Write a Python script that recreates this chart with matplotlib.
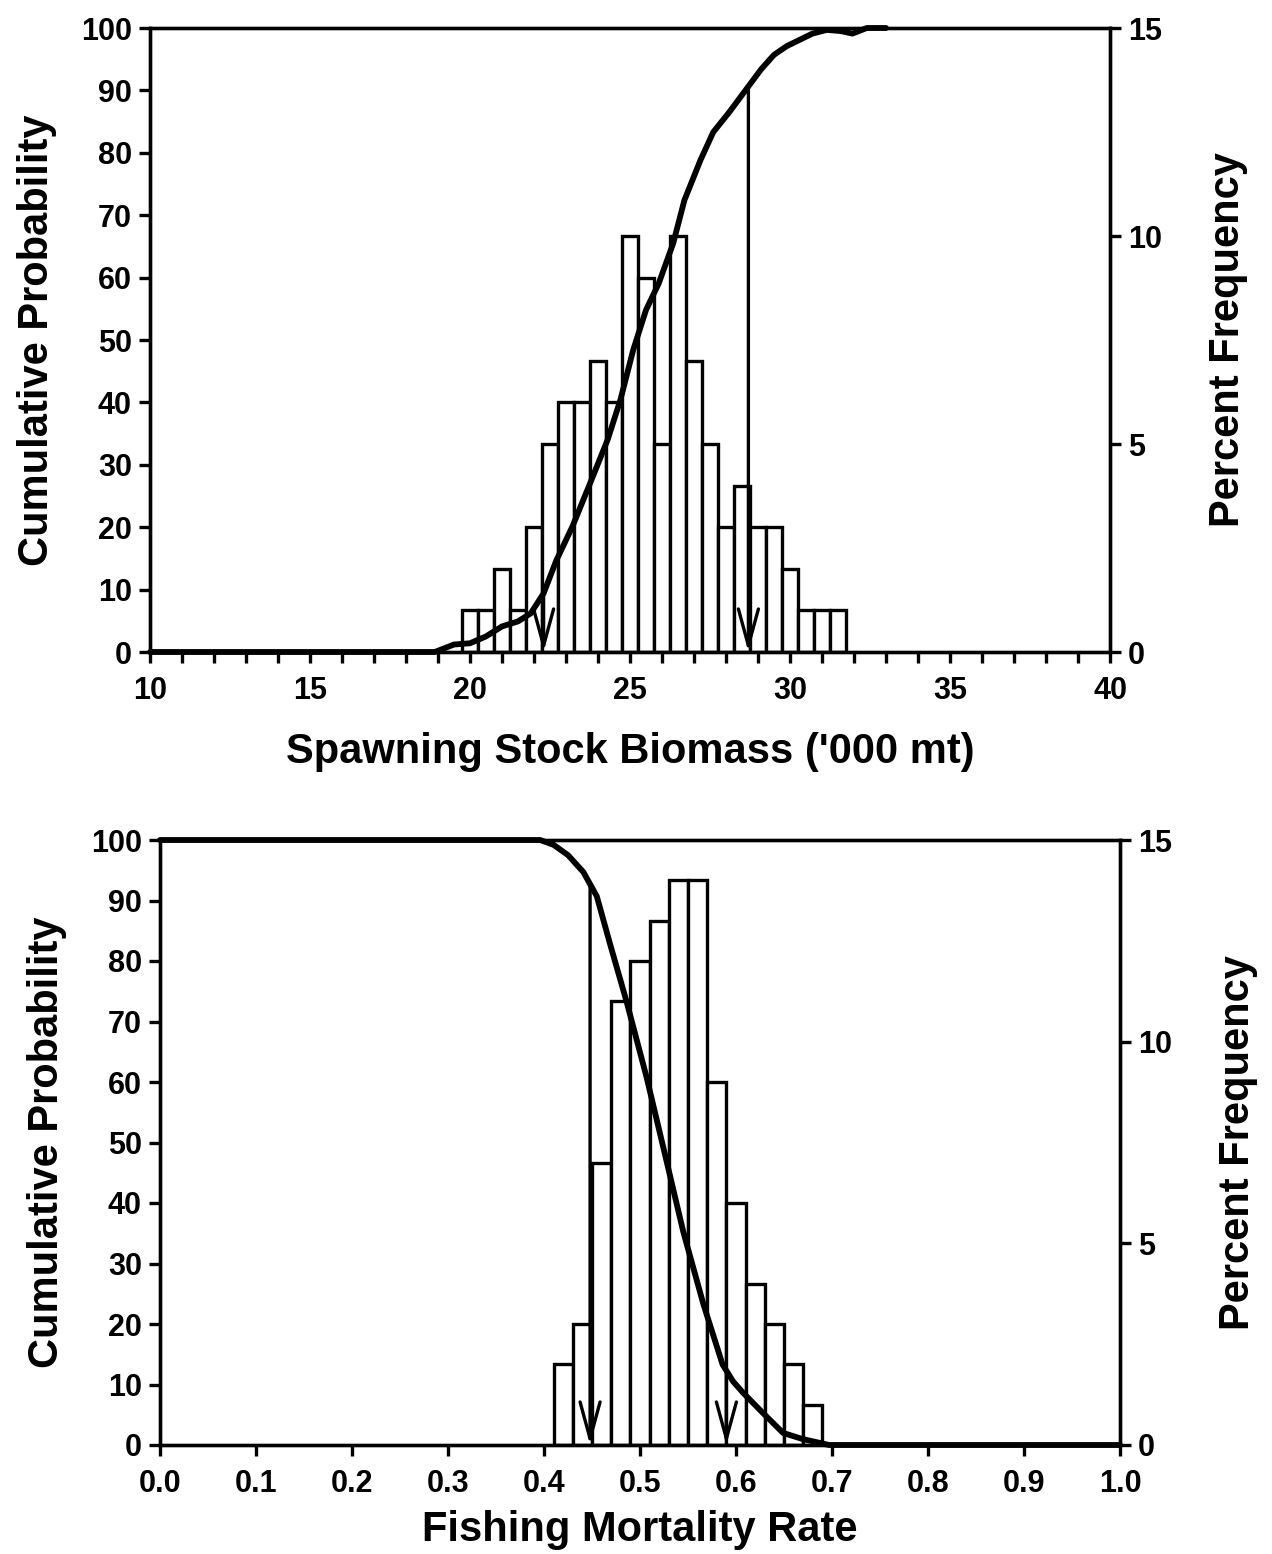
import numpy as np
import matplotlib
matplotlib.use("Agg")
import matplotlib.pyplot as plt

plt.rcParams['font.family'] = ['Liberation Sans', 'DejaVu Sans']
plt.rcParams['font.weight'] = 'bold'

# --- Spawning stock biomass ('000 mt) ---
ssb_centers = [20.0, 20.5, 21.0, 21.5, 22.0, 22.5, 23.0, 23.5, 24.0, 24.5, 25.0, 25.5,
               26.0, 26.5, 27.0, 27.5, 28.0, 28.5, 29.0, 29.5, 30.0, 30.5, 31.0, 31.5]
ssb_freq = [1, 1, 2, 1, 3, 5, 6, 6, 7, 6, 10, 9,
            5, 10, 7, 5, 3, 4, 3, 3, 2, 1, 1, 1]
ssb_cum_x = [10, 18.9, 19.2, 19.5, 20.0, 20.5, 21.0, 21.5, 21.9, 22.3, 22.7, 23.2, 23.75,
             24.3, 24.7, 25.1, 25.5, 25.9, 26.35, 26.7, 27.2, 27.6, 28.1, 28.65,
             29.1, 29.5, 29.9, 30.3, 30.7, 31.15, 31.6, 31.95, 32.2, 32.4, 33.0]
ssb_cum_y = [0, 0, 0.6, 1.2, 1.4, 2.5, 4.1, 4.9, 6.2, 9.4, 14.7, 20.1, 27.0,
             34.0, 40.4, 48.4, 54.8, 59.1, 65.5, 72.4, 78.8, 83.3, 86.5, 90.3,
             93.4, 95.7, 97.1, 98.1, 99.1, 99.7, 99.5, 99.1, 99.6, 100, 100]
ssb_lo, ssb_hi = 22.3, 28.7

# --- Fishing mortality rate ---
f_centers = [0.42, 0.44, 0.46, 0.48, 0.50, 0.52, 0.54, 0.56, 0.58, 0.60, 0.62, 0.64, 0.66, 0.68]
f_freq = [2, 3, 7, 11, 12, 13, 14, 14, 9, 6, 4, 3, 2, 1]
f_cum_x = [0.0, 0.396, 0.41, 0.425, 0.441, 0.455, 0.469, 0.486, 0.507, 0.528, 0.545, 0.566,
           0.586, 0.597, 0.607, 0.628, 0.649, 0.669, 0.697, 1.0]
f_cum_y = [100, 100, 99.2, 97.5, 94.7, 90.7, 82.7, 73.3, 60.7, 46.7, 35.3, 23.3,
           13.3, 10.5, 8.7, 5.3, 2.0, 1.0, 0.0, 0.0]
f_lo, f_hi = 0.448, 0.59

fig = plt.figure(figsize=(12.72, 15.54), dpi=100)
ax_top = fig.add_axes([150 / 1272, 1 - 652 / 1554, 960 / 1272, 624 / 1554])
ax_bot = fig.add_axes([160 / 1272, 1 - 1445 / 1554, 960 / 1272, 605 / 1554])

lab_fs = 30
tick_fs = 22


def panel(ax, centers, freq, width, cx, cy, lo, hi, xlim, xticks, xlabels, xlabel, minor=None):
    ax2 = ax.twinx()
    ax2.bar(centers, freq, width=width, color='white', edgecolor='black', linewidth=2.4)
    ax2.set_ylim(0, 15)
    ax2.set_yticks([0, 5, 10, 15])
    ax2.set_ylabel('Percent Frequency', fontsize=lab_fs, fontweight='bold', labelpad=33)

    ax.set_zorder(ax2.get_zorder() + 1)
    ax.patch.set_visible(False)
    ax.plot(cx, cy, color='black', lw=4.2, solid_capstyle='round', clip_on=False)

    for xv in (lo, hi):
        yv = np.interp(xv, cx, cy)
        ax.annotate('', xy=(xv, 0), xytext=(xv, yv),
                    arrowprops=dict(arrowstyle='->,head_length=1.1,head_width=0.3',
                                    lw=2.4, color='black', shrinkA=0, shrinkB=0,
                                    mutation_scale=24))

    ax.set_xlim(*xlim)
    ax.set_ylim(0, 100)
    ax.set_yticks(range(0, 101, 10))
    ax.set_xticks(xticks)
    ax.set_xticklabels(xlabels)
    if minor is not None:
        ax.set_xticks(minor, minor=True)
    ax.set_ylabel('Cumulative Probability', fontsize=lab_fs, fontweight='bold', labelpad=17)
    ax.set_xlabel(xlabel, fontsize=lab_fs, fontweight='bold')

    for a in (ax, ax2):
        for s in a.spines.values():
            s.set_linewidth(2.4)
        a.tick_params(axis='both', which='both', direction='out', width=2.4,
                      length=8, labelsize=tick_fs, pad=5)
    ax.tick_params(axis='x', pad=9)
    return ax2


panel(ax_top, ssb_centers, ssb_freq, 0.5, ssb_cum_x, ssb_cum_y, ssb_lo, ssb_hi,
      (10, 40), list(range(10, 41, 5)), [str(v) for v in range(10, 41, 5)],
      "Spawning Stock Biomass ('000 mt)", minor=list(range(10, 41)))
ax_top.xaxis.labelpad = 19

fticks = [i / 10 for i in range(11)]
panel(ax_bot, f_centers, f_freq, 0.02, f_cum_x, f_cum_y, f_lo, f_hi,
      (0, 1.0), fticks, ['%.1f' % v for v in fticks], 'Fishing Mortality Rate')
ax_bot.xaxis.labelpad = 8

fig.savefig('out.png', dpi=100)
